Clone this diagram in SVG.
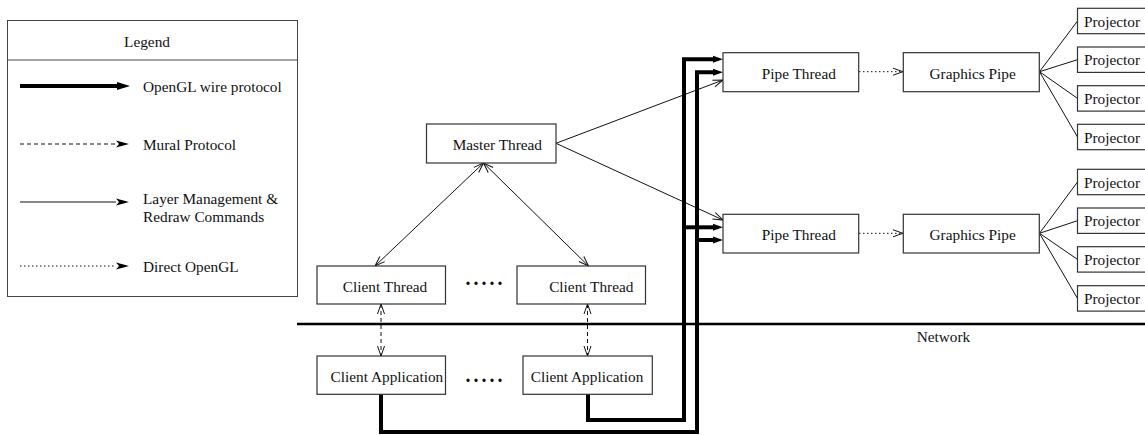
<svg xmlns="http://www.w3.org/2000/svg" width="1145" height="435" viewBox="0 0 1145 435">
<style>
text{font-family:"Liberation Serif","Times New Roman",serif;font-size:15.3px;fill:#111}
.box{fill:#fff;stroke:#333;stroke-width:1.2}
.thin{fill:none;stroke:#111;stroke-width:1}
.thick{fill:none;stroke:#000;stroke-width:4;stroke-linejoin:miter;stroke-linecap:butt}
.dash{fill:none;stroke:#111;stroke-width:1;stroke-dasharray:4 3}
.dot{fill:none;stroke:#111;stroke-width:1;stroke-dasharray:1.5 2.5}
.mid{text-anchor:middle}
.dots{font-weight:bold;font-size:20px;letter-spacing:3px}
</style>
<defs>
<marker id="open" markerUnits="userSpaceOnUse" markerWidth="12" markerHeight="9" refX="10" refY="3.5" orient="auto-start-reverse" overflow="visible">
<path d="M0,0 L10,3.5 L0,7" fill="none" stroke="#111" stroke-width="1"/>
</marker>
<marker id="solid" markerUnits="userSpaceOnUse" markerWidth="12" markerHeight="9" refX="0" refY="3.5" orient="auto" overflow="visible">
<path d="M0,0 L10,3.5 L0,7 z" fill="#000"/>
</marker>
<marker id="leg" markerUnits="userSpaceOnUse" markerWidth="14" markerHeight="9" refX="0" refY="3.5" orient="auto" overflow="visible">
<path d="M0,0 L13,3.5 L0,7 L3,3.5 z" fill="#000"/>
</marker>
<marker id="legthick" markerUnits="userSpaceOnUse" markerWidth="14" markerHeight="9" refX="0" refY="4" orient="auto" overflow="visible">
<path d="M0,0 L13,4 L0,8 z" fill="#000"/>
</marker>
</defs>

<g id="legend">
<rect x="7.5" y="20.5" width="290" height="276" fill="#fff" stroke="#444" stroke-width="1"/>
<line x1="7.5" y1="60" x2="297.5" y2="60" stroke="#444" stroke-width="1"/>
<text x="147" y="47" class="mid">Legend</text>
<line x1="20" y1="86" x2="117" y2="86" stroke="#000" stroke-width="4" marker-end="url(#legthick)"/>
<text x="143" y="92">OpenGL wire protocol</text>
<line x1="20" y1="144" x2="116" y2="144" class="dash" marker-end="url(#leg)"/>
<text x="143" y="150">Mural Protocol</text>
<line x1="20" y1="202" x2="116" y2="202" class="thin" marker-end="url(#leg)"/>
<text x="143" y="204">Layer Management &amp;</text>
<text x="143" y="222">Redraw Commands</text>
<line x1="20" y1="266" x2="116" y2="266" class="dot" marker-end="url(#leg)"/>
<text x="143" y="272">Direct OpenGL</text>
</g>

<g id="connectors">
<line x1="297" y1="324" x2="1145" y2="324" stroke="#000" stroke-width="2.5"/>
<line x1="483.5" y1="163" x2="375" y2="266" class="thin" marker-start="url(#open)" marker-end="url(#open)"/>
<line x1="483.5" y1="163" x2="588.5" y2="266" class="thin" marker-start="url(#open)" marker-end="url(#open)"/>
<line x1="381" y1="304" x2="381" y2="356" class="dash" marker-start="url(#open)" marker-end="url(#open)"/>
<line x1="587.5" y1="304" x2="587.5" y2="356" class="dash" marker-start="url(#open)" marker-end="url(#open)"/>
<line x1="556" y1="143.3" x2="723" y2="80" class="thin" marker-end="url(#open)"/>
<line x1="556" y1="143.3" x2="723" y2="220" class="thin" marker-end="url(#open)"/>
<path d="M381,394 V432 H697 V72.3 H713" class="thick" marker-end="url(#solid)"/>
<path d="M697,240 H713" class="thick" marker-end="url(#solid)"/>
<path d="M588,394 V420 H684 V59.3 H713" class="thick" marker-end="url(#solid)"/>
<path d="M684,227.3 H713" class="thick" marker-end="url(#solid)"/>
<line x1="859" y1="71.7" x2="903" y2="71.7" class="dot" marker-end="url(#open)"/>
<line x1="859" y1="233.3" x2="903" y2="233.3" class="dot" marker-end="url(#open)"/>
<path d="M1039.5,71.7 L1077.5,21 M1039.5,71.7 L1077.5,59.7 M1039.5,71.7 L1077.5,98.4 M1039.5,71.7 L1077.5,137" class="thin"/>
<path d="M1039.5,233.3 L1077.5,182 M1039.5,233.3 L1077.5,220.7 M1039.5,233.3 L1077.5,259.4 M1039.5,233.3 L1077.5,298.4" class="thin"/>
</g>

<g id="master-thread"><rect class="box" x="426.5" y="124" width="129.5" height="39"/><text x="497.3" y="150" class="mid">Master Thread</text></g>
<g id="client-thread-1"><rect class="box" x="317" y="266" width="128.5" height="38"/><text x="385" y="291.5" class="mid">Client Thread</text></g>
<g id="client-thread-2"><rect class="box" x="517" y="266" width="128.5" height="38"/><text x="591.3" y="291.5" class="mid">Client Thread</text></g>
<text x="465.5" y="285" class="dots">.....</text>
<g id="client-app-1"><rect class="box" x="317" y="356" width="128.5" height="38.3"/><text x="386.9" y="381.5" class="mid">Client Application</text></g>
<g id="client-app-2"><rect class="box" x="523" y="356" width="129.3" height="38.3"/><text x="587" y="381.5" class="mid">Client Application</text></g>
<text x="465.5" y="382" class="dots">.....</text>
<g id="pipe-thread-1"><rect class="box" x="723" y="52.7" width="135.7" height="39"/><text x="798.8" y="78.5" class="mid">Pipe Thread</text></g>
<g id="pipe-thread-2"><rect class="box" x="723" y="214.3" width="135.7" height="38.7"/><text x="798.8" y="240" class="mid">Pipe Thread</text></g>
<g id="graphics-pipe-1"><rect class="box" x="903.3" y="52.7" width="136" height="39"/><text x="972.7" y="78.5" class="mid">Graphics Pipe</text></g>
<g id="graphics-pipe-2"><rect class="box" x="903.3" y="214.3" width="136" height="38.7"/><text x="972.7" y="240" class="mid">Graphics Pipe</text></g>
<g id="projector-1"><rect class="box" x="1077.5" y="8.3" width="80" height="25.4"/><text x="1084" y="26.5">Projector</text></g>
<g id="projector-2"><rect class="box" x="1077.5" y="47" width="80" height="25.4"/><text x="1084" y="65.2">Projector</text></g>
<g id="projector-3"><rect class="box" x="1077.5" y="85.7" width="80" height="25.4"/><text x="1084" y="103.9">Projector</text></g>
<g id="projector-4"><rect class="box" x="1077.5" y="124.3" width="80" height="25.4"/><text x="1084" y="142.5">Projector</text></g>
<g id="projector-5"><rect class="box" x="1077.5" y="169.3" width="80" height="25.4"/><text x="1084" y="187.5">Projector</text></g>
<g id="projector-6"><rect class="box" x="1077.5" y="208" width="80" height="25.4"/><text x="1084" y="226.2">Projector</text></g>
<g id="projector-7"><rect class="box" x="1077.5" y="246.7" width="80" height="25.4"/><text x="1084" y="264.9">Projector</text></g>
<g id="projector-8"><rect class="box" x="1077.5" y="285.7" width="80" height="25.4"/><text x="1084" y="303.9">Projector</text></g>
<text x="916.7" y="342">Network</text>
</svg>
